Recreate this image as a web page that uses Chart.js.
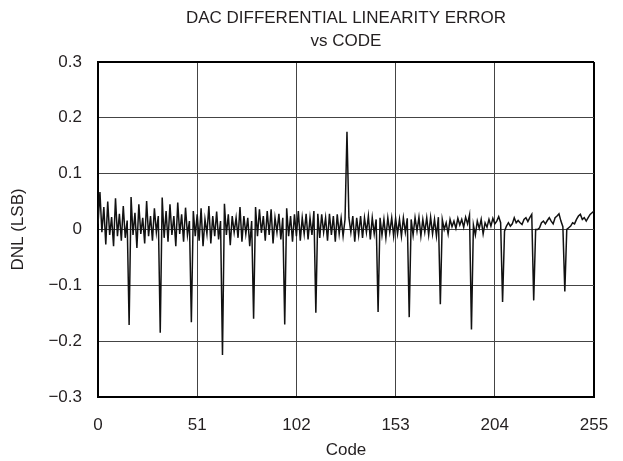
<!DOCTYPE html>
<html><head><meta charset="utf-8">
<script src="https://cdn.jsdelivr.net/npm/chart.js@4/dist/chart.umd.min.js"></script>
<style>html,body{margin:0;padding:0;background:#fff}</style>
</head><body>
<canvas id="c" width="623" height="461" style="display:block;width:623px;height:461px"></canvas>
<script>
const titleLines = ['DAC DIFFERENTIAL LINEARITY ERROR', 'vs CODE'];
const xAxisTitle = 'Code';
const yAxisTitle = 'DNL (LSB)';
const xTicks = [0, 51, 102, 153, 204, 255];
const yTicks = [-0.3, -0.2, -0.1, 0, 0.1, 0.2, 0.3];
const yTickLabels = ['\u22120.3', '\u22120.2', '\u22120.1', '0', '0.1', '0.2', '0.3'];
// DNL (LSB) for codes 0..255
const dnl = [
  0.010,0.067,-0.005,0.040,-0.027,0.050,-0.010,0.022,-0.030,0.056,-0.012,0.028,-0.020,0.042,-0.015,0.016,
  -0.171,0.058,-0.010,0.030,-0.033,0.045,-0.008,0.021,-0.025,0.051,-0.012,0.024,-0.020,0.038,-0.005,0.024,
  -0.185,0.057,-0.015,0.033,-0.022,0.045,-0.010,0.024,-0.030,0.048,-0.008,0.027,-0.022,0.039,-0.010,0.015,
  -0.166,0.033,-0.012,0.027,-0.020,0.038,-0.030,0.018,-0.008,0.042,-0.025,0.024,-0.012,0.032,-0.018,0.015,
  -0.225,0.046,-0.010,0.027,-0.028,0.024,-0.005,0.021,-0.015,0.040,-0.022,0.024,-0.008,0.021,-0.030,0.015,
  -0.160,0.040,-0.012,0.036,-0.006,0.024,-0.020,0.033,-0.010,0.036,-0.025,0.021,-0.005,0.028,-0.018,0.021,
  -0.170,0.038,-0.012,0.024,-0.022,0.027,-0.012,0.033,-0.020,0.021,-0.008,0.028,-0.018,0.021,-0.010,0.033,
  -0.149,0.028,-0.015,0.027,-0.005,0.021,-0.020,0.028,-0.010,0.024,-0.022,0.027,-0.008,0.020,-0.012,0.018,
  0.175,0.021,-0.005,0.024,-0.022,0.021,-0.010,0.024,-0.015,0.021,-0.005,0.024,-0.018,0.021,-0.008,0.018,
  -0.148,0.021,-0.010,0.018,-0.015,0.021,-0.005,0.021,-0.012,0.020,-0.008,0.018,-0.012,0.021,-0.005,0.020,
  -0.157,0.018,-0.010,0.021,-0.003,0.022,-0.012,0.018,-0.005,0.021,-0.010,0.022,-0.008,0.018,-0.012,0.022,
  -0.134,0.018,0.000,0.012,-0.008,0.018,0.005,0.015,0.002,0.020,0.008,0.018,0.004,0.022,0.010,0.026,
  -0.179,0.008,-0.010,0.015,0.002,0.018,-0.008,0.012,0.004,0.018,0.006,0.020,0.010,0.015,0.023,0.012,
  -0.130,-0.003,0.006,0.012,0.006,0.010,0.021,0.012,0.016,0.012,0.009,0.018,0.021,0.014,0.021,0.027,
  -0.127,0.000,0.000,0.003,0.012,0.015,0.010,0.016,0.021,0.015,0.010,0.021,0.024,0.028,0.015,0.005,
  -0.111,0.000,0.003,0.006,0.012,0.010,0.018,0.024,0.027,0.018,0.021,0.015,0.021,0.027,0.030,0.033
];
const codes = dnl.map((v, i) => i);

const FONT = 'Liberation Sans, Arial, Helvetica, sans-serif';
const TXT = '#231f20';

new Chart(document.getElementById('c'), {
  type: 'line',
  data: {
    datasets: [{
      data: codes.map((c, i) => ({ x: c, y: dnl[i] })),
      borderColor: '#111',
      borderWidth: 1.5,
      pointRadius: 0,
      tension: 0,
      fill: false
    }]
  },
  options: {
    responsive: false,
    animation: false,
    layout: { padding: { left: 0, right: 29, top: 0, bottom: 0 } },
    plugins: {
      legend: { display: false },
      tooltip: { enabled: false },
      title: {
        display: true,
        text: titleLines,
        fullSize: false,
        color: TXT,
        font: { family: FONT, size: 17, weight: 'normal', lineHeight: 1.35 },
        padding: { top: 7, bottom: 9 }
      }
    },
    scales: {
      x: {
        type: 'linear',
        min: 0, max: 255,
        afterBuildTicks: s => { s.ticks = xTicks.map(v => ({ value: v })); },
        afterFit: s => { s.height = 64; s.paddingLeft = 0; s.paddingRight = 0; },
        ticks: {
          color: TXT, font: { family: FONT, size: 17 }, padding: 18,
          maxRotation: 0, autoSkip: false,
          callback: v => String(v)
        },
        grid: {
          drawTicks: false,
          color: ctx => ctx.index === xTicks.length - 1 ? '#000' : '#444',
          lineWidth: ctx => ctx.index === xTicks.length - 1 ? 2 : 1
        },
        border: { color: '#000', width: 2 },
        title: { display: true, text: xAxisTitle, color: TXT, font: { family: FONT, size: 17, lineHeight: 1.2 }, padding: 0 }
      },
      y: {
        type: 'linear',
        min: -0.3, max: 0.3,
        afterBuildTicks: s => { s.ticks = yTicks.map(v => ({ value: v })); },
        afterFit: s => { s.width = 98; },
        ticks: {
          color: TXT, font: { family: FONT, size: 17 }, padding: 16,
          callback: v => { const k = yTicks.findIndex(t => Math.abs(t - v) < 1e-9); return k >= 0 ? yTickLabels[k] : ''; }
        },
        grid: {
          drawTicks: false,
          color: ctx => ctx.index === yTicks.length - 1 ? '#000' : '#444',
          lineWidth: ctx => ctx.index === yTicks.length - 1 ? 2 : 1
        },
        border: { color: '#000', width: 2 },
        title: { display: true, text: yAxisTitle, color: TXT, font: { family: FONT, size: 17 }, padding: 8 }
      }
    }
  }
});
</script>
</body></html>
